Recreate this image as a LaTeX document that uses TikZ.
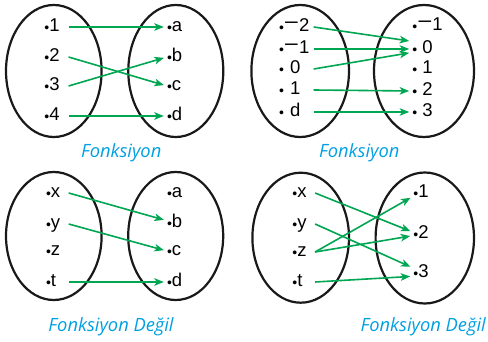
\documentclass[tikz,border=0pt]{standalone}
\usepackage{graphicx}
\usepackage{fontspec}
\setmainfont{Liberation Sans}
\newfontfamily\capfont{Open Sans}
\usetikzlibrary{arrows.meta}
\definecolor{arrowgreen}{RGB}{0,166,81}
\definecolor{capblue}{RGB}{0,160,227}
% small element dot and a wide minus sign
\newcommand\dotmark{{\fontsize{14}{14}\selectfont\raisebox{-0.6pt}{•}}}
\newcommand\mn{\raisebox{2pt}{\scalebox{1.4}[1.1]{−}}}
\begin{document}
\begin{tikzpicture}[x=1pt,y=-1pt,
  setbox/.style={line width=2.2pt, draw=black!90},
  lbl/.style={inner sep=0pt, text height=9.5pt, text depth=0pt, anchor=west,
    font=\fontsize{18.5}{18.5}\selectfont},
  dom/.style={lbl, text width=#1, align=left},
  map/.style={draw=arrowgreen, line width=1.6pt,
    -{Stealth[length=9.5pt,width=7.5pt,inset=2.5pt]}, shorten >=3pt},
  captext/.style={anchor=base, text=capblue, inner sep=0pt,
    font=\capfont\itshape\fontsize{18.3}{18.3}\selectfont}]
\useasboundingbox (0,0) rectangle (488,342);

% ---------- first mapping ----------
\draw[setbox] (53.8,71) ellipse [x radius=47.8, y radius=66];
\draw[setbox] (175.8,71) ellipse [x radius=47.5, y radius=66];
\node[dom=24pt] (a1) at (44.2,27) {\dotmark1};
\node[dom=24pt] (a2) at (44.2,57) {\dotmark2};
\node[dom=24pt] (a3) at (44.2,86) {\dotmark3};
\node[dom=24pt] (a4) at (44.2,116) {\dotmark4};
\node[lbl] (b1) at (166.8,27) {\dotmark a};
\node[lbl] (b2) at (166.8,57) {\dotmark b};
\node[lbl] (b3) at (166.8,86) {\dotmark c};
\node[lbl] (b4) at (166.8,116) {\dotmark d};
\draw[map] (a1.east) -- (b1.west);
\draw[map] (a2.east) -- (b3.west);
\draw[map] (a3.east) -- (b2.west);
\draw[map] (a4.east) -- (b4.west);
\node[captext] (c1) at (121.2,157.3) {Fonksiyon};

% ---------- second mapping ----------
\draw[setbox] (300.2,71) ellipse [x radius=48.8, y radius=66];
\draw[setbox] (424,71) ellipse [x radius=50, y radius=66];
\node[dom=34.5pt] (q1) at (278.8,27) {\dotmark\mn2};
\node[dom=34.5pt] (q2) at (278.8,49) {\dotmark\mn1};
\node[dom=34.5pt] (q3) at (278.8,69) {\dotmark\ 0};
\node[dom=34.5pt] (q4) at (278.8,90) {\dotmark\ 1};
\node[dom=34.5pt] (q5) at (278.8,112) {\dotmark\ d};
\node[lbl] (r1) at (412.2,26) {\dotmark\mn1};
\node[lbl] (r2) at (412.2,49) {\dotmark\ 0};
\node[lbl] (r3) at (412.2,69) {\dotmark\ 1};
\node[lbl] (r4) at (412.2,91) {\dotmark\ 2};
\node[lbl] (r5) at (412.2,112) {\dotmark\ 3};
\draw[map] (q1.east) -- ([yshift=7.6pt]r2.west);
\draw[map] (q2.east) -- (r2.west);
\draw[map] (q3.east) -- ([yshift=-3.4pt]r2.west);
\draw[map] (q4.east) -- (r4.west);
\draw[map] (q5.east) -- (r5.west);
\node[captext] (c2) at (359.3,157.3) {Fonksiyon};

% ---------- third relation ----------
\draw[setbox] (53.8,236) ellipse [x radius=47.8, y radius=64];
\draw[setbox] (175.7,236) ellipse [x radius=47.5, y radius=64];
\node[dom=22.5pt] (s1) at (45.8,193) {\dotmark x};
\node[dom=22.5pt] (s2) at (45.8,224) {\dotmark y};
\node[dom=22.5pt] (s3) at (45.8,251) {\dotmark z};
\node[dom=22.5pt] (s4) at (45.8,282) {\dotmark t};
\node[lbl] (t1) at (166.8,193) {\dotmark a};
\node[lbl] (t2) at (166.8,223) {\dotmark b};
\node[lbl] (t3) at (166.8,251) {\dotmark c};
\node[lbl] (t4) at (166.8,282) {\dotmark d};
\draw[map] (s1.east) -- ([yshift=2.3pt]t2.west);
\draw[map] (s2.east) -- (t3.west);
\draw[map] (s4.east) -- (t4.west);
\node[captext, anchor=base west] (c3) at (48.3,331.5) {Fonksiyon Değil};

% ---------- fourth relation ----------
\draw[setbox] (300.7,237.7) ellipse [x radius=48.3, y radius=65];
\draw[setbox] (424.8,238) ellipse [x radius=49.2, y radius=65.5];
\node[dom=22.5pt] (u1) at (292.2,193) {\dotmark x};
\node[dom=22.5pt] (u2) at (292.2,224) {\dotmark y};
\node[dom=22.5pt] (u3) at (292.2,252) {\dotmark z};
\node[dom=22.5pt] (u4) at (292.2,282) {\dotmark t};
\node[lbl] (v1) at (413.2,193) {\dotmark 1};
\node[lbl] (v2) at (413.2,234) {\dotmark 2};
\node[lbl] (v3) at (413.2,273) {\dotmark 3};
\draw[map] (u1.east) -- ([yshift=1.7pt]v2.west);
\draw[map] (u2.east) -- ([yshift=5pt]v3.west);
\draw[map] (u3.east) -- ([yshift=-3.3pt]v1.west);
\draw[map] (u3.east) -- ([yshift=-1.6pt]v2.west);
\draw[map] (u4.east) -- ([yshift=-3.3pt]v3.west);
\node[captext, anchor=base east] (c4) at (486,331.5) {Fonksiyon Değil};
\end{tikzpicture}
\end{document}
